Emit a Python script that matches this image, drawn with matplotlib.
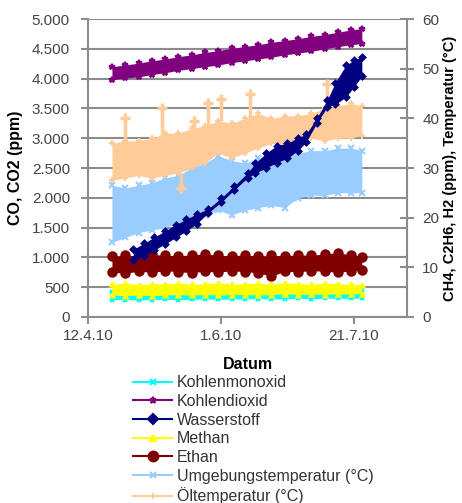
import numpy as np
import matplotlib.pyplot as plt
from matplotlib.lines import Line2D
from matplotlib.ticker import FuncFormatter, MultipleLocator

plt.rcParams['font.family'] = ['Liberation Sans', 'DejaVu Sans']

# sample dates (every ~5 days) and band limits
dates = np.array(['2010-04-21', '2010-04-26', '2010-05-01', '2010-05-06', '2010-05-11',
                  '2010-05-16', '2010-05-21', '2010-05-26', '2010-05-31', '2010-06-05',
                  '2010-06-10', '2010-06-15', '2010-06-20', '2010-06-25', '2010-06-30',
                  '2010-07-05', '2010-07-10', '2010-07-15', '2010-07-20', '2010-07-24'],
                 dtype='datetime64[D]')

# left axis (ppm)
co_lo = [290, 290, 285, 290, 295, 290, 295, 300, 295, 300, 300, 305, 300, 305, 310, 305, 310, 315, 310, 320]
co_hi = [420, 425, 420, 430, 425, 430, 435, 430, 440, 435, 440, 445, 440, 450, 445, 450, 455, 450, 460, 455]
co2_lo = [3980, 4010, 4030, 4070, 4100, 4140, 4170, 4200, 4230, 4270,
          4300, 4330, 4360, 4400, 4430, 4460, 4500, 4540, 4570, 4590]
co2_hi = [4200, 4230, 4260, 4300, 4330, 4370, 4400, 4440, 4470, 4510,
          4540, 4570, 4610, 4640, 4670, 4710, 4740, 4780, 4820, 4840]

# right axis (ppm / degC)
ch4_lo = [4.4, 4.3, 4.4, 4.3, 4.4, 4.5, 4.4, 4.5, 4.4, 4.5, 4.5, 4.4, 4.5, 4.6, 4.5, 4.6, 4.5, 4.6, 4.6, 4.7]
ch4_hi = [6.6, 6.8, 6.5, 6.7, 6.6, 6.8, 6.6, 6.7, 6.9, 6.6, 6.7, 6.8, 6.6, 6.9, 6.7, 6.6, 6.8, 6.7, 6.6, 6.5]
c2h6_lo = [9.0, 8.8, 9.2, 9.0, 9.3, 9.1, 8.9, 9.2, 9.0, 9.3, 9.1, 8.9, 8.2, 9.2, 9.1, 9.3, 9.2, 9.0, 9.3, 9.4]
c2h6_hi = [12.2, 12.4, 12.3, 12.6, 12.4, 12.3, 12.5, 12.7, 12.4, 12.3,
           12.5, 12.2, 12.4, 12.3, 12.5, 12.4, 12.7, 12.9, 12.5, 12.1]
amb_lo = [15, 16, 17, 17.5, 18, 19, 19.5, 20.5, 21.5, 20.5, 21.5, 22, 22.5, 22, 24, 24.5, 24.5, 25, 25, 25]
amb_hi = [26.5, 26, 26.5, 27, 28, 28.5, 30, 31, 32.5, 31.5, 31, 32, 32, 32.5, 33, 33.5, 33.5, 34, 34, 33.5]
oil_lo = [27.5, 28, 28.5, 28, 28.5, 29, 30, 31, 33, 32, 33, 34, 35, 34.5, 36, 36, 35.5, 36, 36, 36.5]
oil_hi = [35, 35.5, 35.5, 36, 37, 37, 38, 38.5, 39.5, 39, 40, 41, 40, 40.5, 40.5, 41, 42, 42.5, 43, 42.5]

oil_spike_dates = np.array(['2010-04-26', '2010-05-10', '2010-05-17', '2010-05-22', '2010-05-27',
                            '2010-06-01', '2010-06-12', '2010-07-11'], dtype='datetime64[D]')
oil_spike_base = [35.5, 36.5, 29, 38, 38.5, 39.5, 40, 42]
oil_spike_top = [40, 42, 26, 39.5, 43, 44, 45, 47]

h2_dates = np.array(['2010-04-29', '2010-05-03', '2010-05-07', '2010-05-11', '2010-05-15',
                     '2010-05-19', '2010-05-23', '2010-05-27', '2010-06-01', '2010-06-06',
                     '2010-06-11', '2010-06-14', '2010-06-18', '2010-06-22', '2010-06-26',
                     '2010-06-30', '2010-07-03', '2010-07-07', '2010-07-11', '2010-07-14',
                     '2010-07-18', '2010-07-21', '2010-07-24'], dtype='datetime64[D]')
h2_lo = [11.4, 12.2, 13.5, 14.7, 16.0, 17.3, 18.8, 20.9, 23.1, 25.6, 28.0, 29.0,
         30.0, 31.1, 32.0, 33.5, 35.2, 39.0, 42.3, 42.8, 44.3, 46.3, 48.5]
h2_hi = [13.6, 14.8, 16.1, 17.3, 18.6, 19.7, 20.8, 21.7, 23.9, 26.4, 29.0, 31.0,
         33.0, 34.5, 35.0, 36.1, 36.8, 40.0, 43.7, 47.2, 50.7, 51.7, 52.4]

labels = ['Kohlenmonoxid', 'Kohlendioxid', 'Wasserstoff', 'Methan', 'Ethan',
          'Umgebungstemperatur (°C)', 'Öltemperatur (°C)']
colors = ['#00FFFF', '#800080', '#000080', '#FFFF00', '#800000', '#99CCFF', '#FFCC99']
markers = ['x', '*', 'D', '^', 'o', 'x', '+']

fig = plt.figure(figsize=(4.62, 5.03), dpi=100)
ax = fig.add_axes([0.1905, 0.370, 0.6905, 0.592])
ax2 = ax.twinx()

grey = '#8c8c8c'


def band(a, x, lo, hi, color, marker, ms, z):
    a.fill_between(x, lo, hi, color=color, lw=0, zorder=z)
    a.plot(x, lo, ls='none', marker=marker, color=color, ms=ms, mew=1.5, zorder=z)
    a.plot(x, hi, ls='none', marker=marker, color=color, ms=ms, mew=1.5, zorder=z)


band(ax, dates, co_lo, co_hi, colors[0], markers[0], 3, 3)
band(ax, dates, co2_lo, co2_hi, colors[1], markers[1], 4, 3)

band(ax2, dates, amb_lo, amb_hi, colors[5], markers[5], 4, 2)
band(ax2, dates, oil_lo, oil_hi, colors[6], markers[6], 5, 3)
ax2.vlines(oil_spike_dates, oil_spike_base, oil_spike_top, color=colors[6], lw=2.5, zorder=3)
ax2.plot(oil_spike_dates, oil_spike_top, ls='none', marker='+', ms=7, mew=2.5,
         color=colors[6], zorder=3)
band(ax2, dates, ch4_lo, ch4_hi, colors[3], markers[3], 3, 4)
band(ax2, dates, c2h6_lo, c2h6_hi, colors[4], markers[4], 6, 4)
band(ax2, h2_dates, h2_lo, h2_hi, colors[2], markers[2], 3, 5)

ax.set_xlim(np.datetime64('2010-04-12'), np.datetime64('2010-08-10'))
ax.set_ylim(0, 5000)
ax2.set_ylim(0, 60)

xticks = np.array(['2010-04-12', '2010-06-01', '2010-07-21'], dtype='datetime64[D]')
ax.set_xticks(xticks)
ax.set_xticklabels(['12.4.10', '1.6.10', '21.7.10'])
ax.yaxis.set_major_locator(MultipleLocator(500))
ax.yaxis.set_major_formatter(FuncFormatter(lambda v, p: f'{v:,.0f}'.replace(',', '.')))
ax2.yaxis.set_major_locator(MultipleLocator(10))

ax.grid(axis='y', color=grey, lw=1.5, zorder=0)
ax.set_axisbelow(True)

for s in ['top', 'right']:
    ax.spines[s].set_visible(False)
for s in ['top', 'left', 'bottom']:
    ax2.spines[s].set_visible(False)
for s in ['left', 'bottom']:
    ax.spines[s].set_color(grey)
    ax.spines[s].set_linewidth(1.5)
ax2.spines['right'].set_color(grey)
ax2.spines['right'].set_linewidth(1.5)

ax.tick_params(axis='both', colors=grey, labelcolor='#444444', labelsize=11, length=5, width=1.5)
ax.tick_params(axis='y', pad=8)
ax2.tick_params(axis='y', colors=grey, labelcolor='#444444', labelsize=11, length=10,
                width=1.5, direction='inout', pad=6)

ax.set_xlabel('Datum', fontsize=11.5, fontweight='bold', labelpad=10)
ax.set_ylabel('CO, CO2 (ppm)', fontsize=11.5, fontweight='bold', labelpad=6)
ax2.set_ylabel('CH4, C2H6, H2 (ppm), Temperatur (°C)', fontsize=10.5, fontweight='bold',
               labelpad=3)

handles = [Line2D([], [], color=c, marker=m, ms=7 if m == 'o' else 5, mew=1.5, lw=1.5)
           for c, m in zip(colors, markers)]
leg = fig.legend(handles, labels, loc='upper left', bbox_to_anchor=(0.288, 0.254),
                 frameon=False, fontsize=11.5, handlelength=2.45, handletextpad=0.3,
                 labelspacing=0.23, borderpad=0, borderaxespad=0)
for t in leg.get_texts():
    t.set_color('#333333')

fig.savefig('out.png', dpi=100)
